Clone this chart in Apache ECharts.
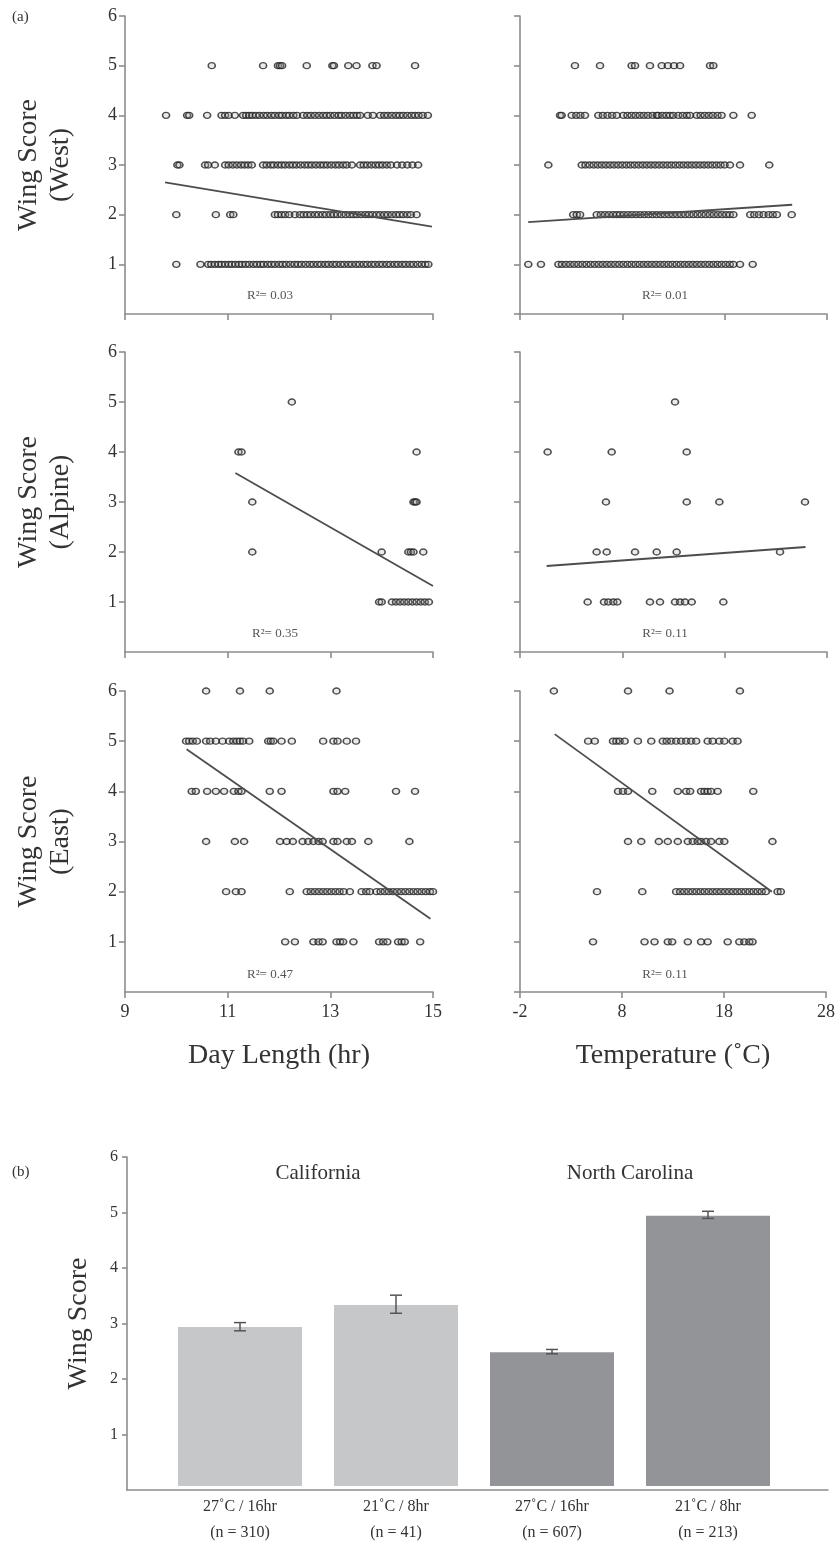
<!DOCTYPE html>
<html><head><meta charset="utf-8">
<script src="https://cdn.jsdelivr.net/npm/echarts@6/dist/echarts.min.js"></script>
<style>html,body{margin:0;padding:0;background:#fff}#c{width:838px;height:1546px}</style>
</head><body><div id="c"></div>
<script>
// ---------- DATA ----------
const dayTicks = [9, 11, 13, 15];
const tempTicks = [-2, 8, 18, 28];
const panelNames = ['Wing Score\n(West)', 'Wing Score\n(Alpine)', 'Wing Score\n(East)'];
const r2Values = ['0.03', '0.01', '0.35', '0.11', '0.47', '0.11'];

// West, day length (hr) by wing score
const westDay5 = [10.69, 11.69, 11.98, 12.02, 12.06, 12.54, 13.04, 13.07, 13.35, 13.51, 13.82, 13.9, 14.65];
const westDay4 = [9.8, 10.21, 10.25, 10.6, 10.88, 10.95, 11.02, 11.14, 11.3, 11.36, 11.42, 11.48, 11.55, 11.62, 11.7, 11.77, 11.85, 11.92, 12.0, 12.06, 12.14, 12.2, 12.28, 12.35, 12.47, 12.55, 12.62, 12.7, 12.78, 12.86, 12.93, 13.0, 13.08, 13.16, 13.22, 13.3, 13.38, 13.45, 13.52, 13.58, 13.73, 13.83, 13.97, 14.05, 14.12, 14.2, 14.28, 14.35, 14.42, 14.5, 14.58, 14.65, 14.72, 14.8, 14.9];
const westDay3 = [10.02, 10.06, 10.56, 10.62, 10.75, 10.95, 11.02, 11.1, 11.18, 11.26, 11.33, 11.4, 11.47, 11.69, 11.76, 11.84, 11.9, 11.98, 12.05, 12.12, 12.2, 12.27, 12.34, 12.42, 12.5, 12.57, 12.64, 12.72, 12.8, 12.87, 12.94, 13.02, 13.1, 13.17, 13.25, 13.32, 13.42, 13.58, 13.65, 13.72, 13.8, 13.88, 13.95, 14.02, 14.1, 14.18, 14.3, 14.4, 14.5, 14.6, 14.71];
const westDay2 = [10.0, 10.77, 11.05, 11.11, 11.92, 11.98, 12.05, 12.12, 12.2, 12.31, 12.41, 12.48, 12.55, 12.62, 12.7, 12.77, 12.85, 12.92, 13.0, 13.07, 13.14, 13.22, 13.3, 13.38, 13.45, 13.52, 13.6, 13.68, 13.75, 13.82, 13.9, 13.97, 14.05, 14.12, 14.2, 14.28, 14.35, 14.42, 14.5, 14.57, 14.68];
const westDay1 = [10.0, 10.47, 10.62, 10.68, 10.75, 10.82, 10.88, 10.95, 11.02, 11.08, 11.15, 11.22, 11.28, 11.35, 11.42, 11.5, 11.57, 11.64, 11.7, 11.78, 11.85, 11.92, 12.0, 12.07, 12.14, 12.22, 12.3, 12.37, 12.44, 12.52, 12.6, 12.67, 12.75, 12.82, 12.9, 12.97, 13.05, 13.12, 13.2, 13.27, 13.35, 13.42, 13.5, 13.57, 13.65, 13.72, 13.8, 13.87, 13.95, 14.02, 14.1, 14.17, 14.25, 14.32, 14.4, 14.47, 14.55, 14.62, 14.7, 14.78, 14.85, 14.91];

// West, temperature (°C)
const westTemp5 = [3.37, 5.82, 8.91, 9.24, 10.7, 11.85, 12.45, 13.05, 13.64, 16.57, 16.89];
const westTemp4 = [1.91, 2.07, 3.05, 3.5, 3.9, 4.35, 5.65, 6.1, 6.55, 7.0, 7.45, 8.1, 8.5, 8.9, 9.3, 9.7, 10.1, 10.5, 10.95, 11.36, 11.5, 11.9, 12.3, 12.65, 12.98, 13.47, 13.9, 14.3, 14.61, 15.27, 15.65, 16.05, 16.45, 16.85, 17.3, 17.7, 18.85, 20.64];
const westTemp3 = [0.77, 4.03, 4.4, 4.8, 5.2, 5.6, 6.0, 6.4, 6.8, 7.2, 7.6, 8.0, 8.4, 8.8, 9.2, 9.6, 10.0, 10.4, 10.8, 11.2, 11.6, 12.0, 12.4, 12.8, 13.2, 13.6, 14.0, 14.4, 14.8, 15.2, 15.6, 16.0, 16.4, 16.8, 17.2, 17.6, 18.0, 18.52, 19.5, 22.36];
const westTemp2 = [3.2, 3.55, 3.87, 5.5, 5.9, 6.3, 6.7, 7.1, 7.45, 7.77, 8.15, 8.55, 8.95, 9.35, 9.75, 10.15, 10.55, 10.95, 11.35, 11.75, 12.15, 12.55, 12.95, 13.35, 13.75, 14.15, 14.55, 14.95, 15.35, 15.75, 16.15, 16.55, 16.95, 17.35, 17.75, 18.15, 18.5, 18.85, 20.5, 20.9, 21.35, 21.8, 22.3, 22.7, 23.1, 24.55];
const westTemp1 = [-1.19, 0.05, 1.75, 2.1, 2.5, 2.9, 3.3, 3.7, 4.1, 4.5, 4.9, 5.3, 5.7, 6.1, 6.5, 6.9, 7.3, 7.7, 8.1, 8.5, 8.9, 9.3, 9.7, 10.1, 10.5, 10.9, 11.3, 11.7, 12.1, 12.5, 12.9, 13.3, 13.7, 14.1, 14.5, 14.9, 15.3, 15.7, 16.1, 16.5, 16.9, 17.3, 17.7, 18.1, 18.5, 18.85, 19.5, 20.74];

// Alpine, day length
const alpDay5 = [12.25];
const alpDay4 = [11.21, 11.27, 14.68];
const alpDay3 = [11.48, 14.62, 14.65, 14.68];
const alpDay2 = [11.48, 14.0, 14.52, 14.57, 14.62, 14.81];
const alpDay1 = [13.95, 14.0, 14.2, 14.28, 14.36, 14.44, 14.52, 14.6, 14.68, 14.76, 14.84, 14.92];

// Alpine, temperature
const alpTemp5 = [13.15];
const alpTemp4 = [0.7, 6.96, 14.29];
const alpTemp3 = [6.4, 14.29, 17.48, 25.85];
const alpTemp2 = [5.49, 6.47, 9.24, 11.36, 13.31, 23.41];
const alpTemp1 = [4.61, 6.21, 6.63, 7.12, 7.51, 10.7, 11.68, 13.15, 13.64, 14.12, 14.78, 17.87];

// East, day length
const eastDay6 = [10.58, 11.24, 11.82, 13.12];
const eastDay5 = [10.19, 10.25, 10.32, 10.4, 10.58, 10.66, 10.77, 10.9, 11.03, 11.11, 11.18, 11.24, 11.3, 11.42, 11.79, 11.84, 11.89, 12.05, 12.25, 12.86, 13.06, 13.14, 13.32, 13.5];
const eastDay4 = [10.3, 10.38, 10.6, 10.77, 10.93, 11.12, 11.21, 11.27, 11.82, 12.05, 13.06, 13.14, 13.29, 14.28, 14.65];
const eastDay3 = [10.58, 11.14, 11.32, 12.02, 12.15, 12.27, 12.46, 12.57, 12.67, 12.77, 12.85, 13.06, 13.14, 13.32, 13.42, 13.74, 14.54];
const eastDay2 = [10.97, 11.16, 11.27, 12.21, 12.54, 12.62, 12.7, 12.78, 12.86, 12.94, 13.02, 13.1, 13.18, 13.26, 13.38, 13.61, 13.7, 13.77, 13.9, 13.98, 14.06, 14.14, 14.22, 14.3, 14.38, 14.46, 14.54, 14.62, 14.7, 14.78, 14.86, 14.94, 15.0];
const eastDay1 = [12.12, 12.31, 12.67, 12.77, 12.85, 13.12, 13.19, 13.25, 13.45, 13.95, 14.03, 14.11, 14.32, 14.39, 14.45, 14.75];

// East, temperature
const eastTemp6 = [1.32, 8.59, 12.66, 19.56];
const eastTemp5 = [4.68, 5.33, 7.12, 7.45, 7.77, 8.26, 9.56, 10.87, 12.0, 12.39, 12.82, 13.31, 13.8, 14.29, 14.78, 15.27, 16.4, 16.89, 17.54, 18.03, 18.85, 19.33];
const eastTemp4 = [7.61, 8.1, 8.59, 10.97, 13.47, 14.29, 14.68, 15.75, 16.08, 16.4, 16.73, 17.38, 20.87];
const eastTemp3 = [8.59, 9.89, 11.61, 12.49, 13.47, 14.45, 14.94, 15.42, 15.75, 16.24, 16.73, 17.54, 18.03, 22.75];
const eastTemp2 = [5.55, 9.99, 13.31, 13.7, 14.1, 14.5, 14.9, 15.3, 15.7, 16.1, 16.5, 16.9, 17.3, 17.7, 18.1, 18.5, 18.9, 19.3, 19.7, 20.1, 20.5, 20.9, 21.3, 21.7, 22.1, 23.25, 23.57];
const eastTemp1 = [5.16, 10.21, 11.19, 12.49, 12.92, 14.45, 15.75, 16.4, 18.36, 19.5, 19.99, 20.48, 20.8];

// fitted regression line end points
const westDayFit = [[9.78, 2.65], [14.98, 1.76]];
const westTempFit = [[-1.2, 1.85], [24.6, 2.2]];
const alpDayFit = [[11.15, 3.58], [15.0, 1.32]];
const alpTempFit = [[0.6, 1.72], [25.9, 2.1]];
const eastDayFit = [[10.2, 4.84], [14.95, 1.46]];
const eastTempFit = [[1.4, 5.14], [22.7, 2.0]];

// (b) bar chart
const regions = ['California', 'North Carolina'];
const barCategories = ['27˚C / 16hr\n(n = 310)', '21˚C / 8hr\n(n = 41)', '27˚C / 16hr\n(n = 607)', '21˚C / 8hr\n(n = 213)'];
const barValues = [2.9, 3.3, 2.44, 4.93];
const errLow = [2.83, 3.15, 2.41, 4.88];
const errHigh = [2.98, 3.48, 2.49, 5.01];

// ---------- CHART ----------
const FONT = '"Liberation Serif", "Times New Roman", serif';
const AX = '#8c8c8c';
const TXT = '#333';

function pts(rows) {
  const out = [];
  rows.forEach(([score, xs]) => xs.forEach(x => out.push([x, score])));
  return out;
}
const panels = [
  { rows: [[5, westDay5], [4, westDay4], [3, westDay3], [2, westDay2], [1, westDay1]], fit: westDayFit },
  { rows: [[5, westTemp5], [4, westTemp4], [3, westTemp3], [2, westTemp2], [1, westTemp1]], fit: westTempFit },
  { rows: [[5, alpDay5], [4, alpDay4], [3, alpDay3], [2, alpDay2], [1, alpDay1]], fit: alpDayFit },
  { rows: [[5, alpTemp5], [4, alpTemp4], [3, alpTemp3], [2, alpTemp2], [1, alpTemp1]], fit: alpTempFit },
  { rows: [[6, eastDay6], [5, eastDay5], [4, eastDay4], [3, eastDay3], [2, eastDay2], [1, eastDay1]], fit: eastDayFit },
  { rows: [[6, eastTemp6], [5, eastTemp5], [4, eastTemp4], [3, eastTemp3], [2, eastTemp2], [1, eastTemp1]], fit: eastTempFit }
];

const grids = [
  { left: 125, top: 16, width: 308, height: 298 },
  { left: 520, top: 16, width: 307, height: 298 },
  { left: 125, top: 352, width: 308, height: 300 },
  { left: 520, top: 352, width: 307, height: 300 },
  { left: 125, top: 691, width: 308, height: 301 },
  { left: 520, top: 691, width: 307, height: 301 },
  { left: 162, top: 1157, width: 624, height: 333 },
  { left: 127, top: 1157, width: 701, height: 333 }
];

const lineStyle = { color: AX, width: 1.6 };
const xAxes = [], yAxes = [], series = [];
for (let i = 0; i < 6; i++) {
  const isDay = i % 2 === 0;
  const bottom = i >= 4;
  const ticks = isDay ? dayTicks : tempTicks;
  xAxes.push({
    type: 'value', gridIndex: i,
    min: ticks[0], max: ticks[ticks.length - 1],
    axisLine: { show: true, onZero: false, lineStyle },
    axisTick: { show: true, length: 6, lineStyle, customValues: ticks },
    axisLabel: { show: bottom, customValues: ticks, margin: 11, fontSize: 18, fontFamily: FONT, color: TXT },
    splitLine: { show: false },
    name: bottom ? (isDay ? 'Day Length (hr)' : 'Temperature (˚C)') : '',
    nameLocation: 'middle', nameGap: 50,
    nameTextStyle: { fontSize: 28, fontFamily: FONT, color: TXT }
  });
  yAxes.push({
    type: 'value', gridIndex: i, min: 0, max: 6, interval: 1,
    axisLine: { show: true, onZero: false, lineStyle },
    axisTick: { show: true, length: 6, lineStyle },
    axisLabel: { show: isDay, showMinLabel: false, margin: 8, fontSize: 18, fontFamily: FONT, color: TXT },
    splitLine: { show: false },
    name: isDay ? panelNames[i / 2] : '',
    nameLocation: 'middle', nameGap: 48, nameRotate: 90,
    nameTextStyle: { fontSize: 28, lineHeight: 32, fontFamily: FONT, color: TXT }
  });
  series.push({
    type: 'scatter', xAxisIndex: i, yAxisIndex: i,
    data: pts(panels[i].rows),
    symbol: 'circle', symbolSize: [7, 6],
    itemStyle: { color: 'rgba(170,170,170,0.3)', borderColor: '#222', borderWidth: 1.5 },
    silent: true, z: 2
  });
  series.push({
    type: 'line', xAxisIndex: i, yAxisIndex: i,
    data: panels[i].fit, symbol: 'none',
    lineStyle: { color: '#4d4d4d', width: 1.8 }, silent: true, z: 3
  });
}

// bar grid axes (index 6: bars bottom, 7: regions top, 8: frame)
xAxes.push({
  type: 'category', gridIndex: 6, data: barCategories,
  axisLine: { show: false }, axisTick: { show: false },
  axisLabel: { margin: 8, fontSize: 16, lineHeight: 26, fontFamily: FONT, color: TXT, interval: 0 }
});
xAxes.push({
  type: 'category', gridIndex: 6, data: regions, position: 'top',
  axisLine: { show: false }, axisTick: { show: false },
  axisLabel: { inside: true, margin: 6, fontSize: 21, fontFamily: FONT, color: TXT, interval: 0 }
});
xAxes.push({
  type: 'value', gridIndex: 7, min: 0, max: 1,
  axisLine: { show: true, onZero: false, lineStyle }, axisTick: { show: false },
  axisLabel: { show: false }, splitLine: { show: false }
});
yAxes.push({ type: 'value', gridIndex: 6, min: 0, max: 6, interval: 1, show: false });
yAxes.push({
  type: 'value', gridIndex: 7, min: 0, max: 6, interval: 1,
  axisLine: { show: true, onZero: false, lineStyle },
  axisTick: { show: true, length: 5, lineStyle },
  axisLabel: { showMinLabel: false, margin: 9, fontSize: 16, fontFamily: FONT, color: TXT },
  splitLine: { show: false },
  name: 'Wing Score', nameLocation: 'middle', nameGap: 34, nameRotate: 90,
  nameTextStyle: { fontSize: 28, fontFamily: FONT, color: TXT }
});

series.push({
  type: 'bar', xAxisIndex: 6, yAxisIndex: 6, data: barValues, barWidth: 124,
  itemStyle: { color: p => (p.dataIndex < 2 ? '#c6c7c9' : '#939498') }, silent: true
});
series.push({
  type: 'custom', xAxisIndex: 6, yAxisIndex: 6,
  data: barValues.map((v, i) => [i, errLow[i], errHigh[i]]),
  renderItem: (params, api) => {
    const lo = api.coord([api.value(0), api.value(1)]);
    const hi = api.coord([api.value(0), api.value(2)]);
    const w = 6;
    const st = { stroke: '#555', lineWidth: 1.5 };
    return {
      type: 'group', children: [
        { type: 'line', shape: { x1: lo[0], y1: lo[1], x2: hi[0], y2: hi[1] }, style: st },
        { type: 'line', shape: { x1: lo[0] - w, y1: lo[1], x2: lo[0] + w, y2: lo[1] }, style: st },
        { type: 'line', shape: { x1: hi[0] - w, y1: hi[1], x2: hi[0] + w, y2: hi[1] }, style: st }
      ]
    };
  },
  z: 5, silent: true
});

// R² annotations
const r2Pos = [[270, 296], [665, 296], [275, 634], [665, 634], [270, 975], [665, 975]];
const graphics = r2Values.map((v, i) => ({
  type: 'text', x: r2Pos[i][0], y: r2Pos[i][1],
  style: { text: 'R²= ' + v, fontSize: 13, fontFamily: FONT, fill: '#555', align: 'center', verticalAlign: 'middle' }
}));
graphics.push({ type: 'text', x: 12, y: 10, style: { text: '(a)', fontSize: 15, fontFamily: FONT, fill: TXT } });
graphics.push({ type: 'text', x: 12, y: 1165, style: { text: '(b)', fontSize: 15, fontFamily: FONT, fill: TXT } });

const chart = echarts.init(document.getElementById('c'), null, { renderer: 'canvas' });
chart.setOption({
  animation: false,
  backgroundColor: '#fff',
  grid: grids,
  xAxis: xAxes,
  yAxis: yAxes,
  series: series,
  graphic: graphics
});
</script></body></html>
